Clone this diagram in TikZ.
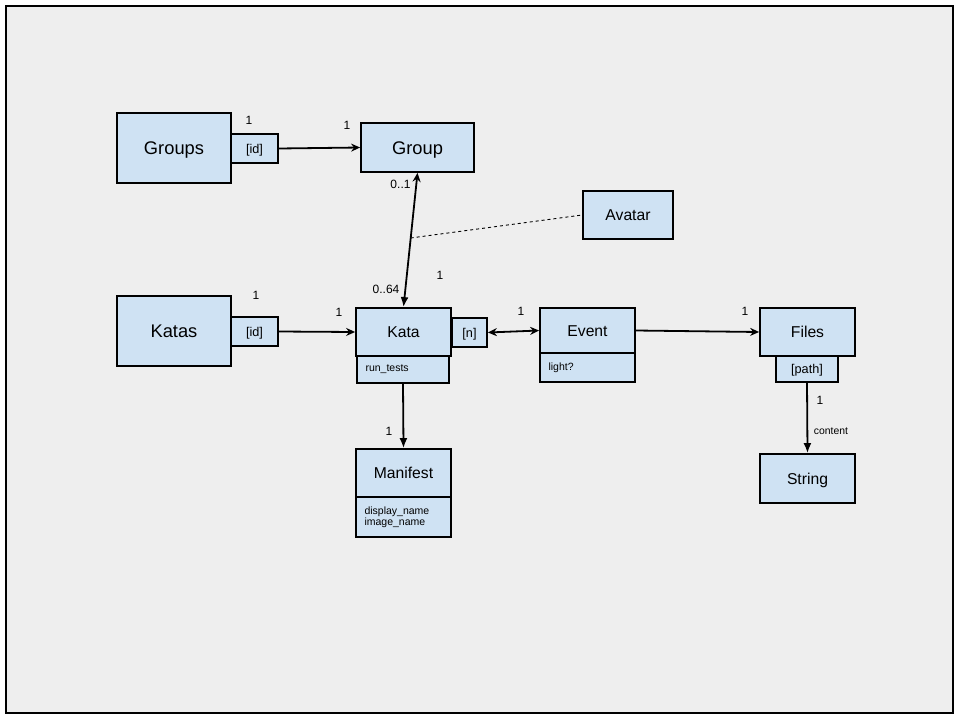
\documentclass[tikz,border=0pt]{standalone}
\usepackage{fontspec}
\setmainfont{Liberation Sans}
\usetikzlibrary{arrows.meta, calc}
\definecolor{boxblue}{HTML}{CFE2F3}
\definecolor{sheet}{HTML}{EEEEEE}
\tikzset{
  classbox/.style={rectangle, draw=black, line width=1.8pt, fill=boxblue, inner sep=0pt, text height=11.3pt, text depth=0pt, font=\fontsize{15.7}{19}\selectfont},
  bigbox/.style={classbox, minimum width=114pt, minimum height=70pt, text height=13.2pt, font=\fontsize{18.3}{22}\selectfont},
  keybox/.style={classbox, text height=9.1pt, font=\fontsize{12.7}{15}\selectfont},
  attrbox/.style={rectangle, draw=black, line width=1.8pt, fill=boxblue, inner sep=0pt, font=\fontsize{10.5}{12.5}\selectfont, align=left, text width=#1, inner xsep=8.5pt},
  mult/.style={inner sep=0pt, text height=8.6pt, text depth=0pt, font=\fontsize{12}{14}\selectfont},
  assoc/.style={line width=1.8pt}
}
\begin{document}
\begin{tikzpicture}[x=1pt, y=-1pt]
    % Hoja de fondo
    \useasboundingbox (0,0) rectangle (960,720);
    \node[draw=black, line width=1.5pt, fill=sheet, minimum width=947pt, minimum height=707pt, inner sep=0pt] (sheet) at (479.5,359.5) {};

    % Groups y Group
    \node[bigbox] (groups) at (174,148) {Groups};
    \node[keybox, minimum width=47pt, minimum height=29pt] (groupsid) at (254.5,148.5) {[id]};
    \node[classbox, minimum width=113pt, minimum height=49pt, text height=13.2pt, font=\fontsize{18.3}{22}\selectfont] (group) at (417.5,147.5) {Group};

    % Avatar
    \node[classbox, minimum width=90pt, minimum height=48pt] (avatar) at (628,215) {Avatar};

    % Katas y Kata
    \node[bigbox] (katas) at (174,331) {Katas};
    \node[keybox, minimum width=47pt, minimum height=29pt] (katasid) at (254.5,331.5) {[id]};
    \node[classbox, minimum width=95pt, minimum height=48pt] (kata) at (403.5,332) {Kata};
    \node[attrbox=75pt, minimum height=27pt] (katarun) at (403,369.5) {run\_tests};
    \node[keybox, minimum width=35pt, minimum height=29pt] (katan) at (469.5,332.5) {[n]};

    % Event
    \node[classbox, minimum width=95pt, minimum height=45pt] (event) at (587.5,330.5) {Event};
    \node[attrbox=78pt, minimum height=29pt] (eventlight) at (587.5,367.5) {light?};

    % Files y String
    \node[classbox, minimum width=95pt, minimum height=48pt] (files) at (807.5,332) {Files};
    \node[keybox, minimum width=62pt, minimum height=26pt] (filespath) at (807,369) {[path]};
    \node[classbox, minimum width=95pt, minimum height=49pt] (string) at (807.5,478.5) {String};

    % Manifest
    \node[classbox, minimum width=95pt, minimum height=48pt] (manifest) at (403.5,473) {Manifest};
    \node[attrbox=78pt, minimum height=40pt] (manifestattr) at (403.5,517) {display\_name\\[-1.5pt]image\_name};

    % Conectores
    \draw[assoc, -{Stealth[length=9pt, width=8pt, inset=3pt]}] (groupsid.east) -- (group.west);
    \draw[assoc, {Stealth[length=9pt, width=8pt, inset=3pt]}-{Latex[length=10pt, width=8pt]}] (group.south) -- (kata.north);
    \coordinate (avatarlink) at ($(group.south)!0.485!(kata.north)$);
    \draw[dashed, line width=0.9pt] (avatarlink) -- (avatar.west);
    \draw[assoc, -{Stealth[length=9pt, width=8pt, inset=3pt]}] (katasid.east) -- (kata.west);
    \draw[assoc, {Stealth[length=9pt, width=8pt, inset=3pt]}-{Stealth[length=9pt, width=8pt, inset=3pt]}] (katan.east) -- (event.west);
    \draw[assoc, -{Stealth[length=9pt, width=8pt, inset=3pt]}] (event.east) -- (files.west);
    \draw[assoc, -{Latex[length=10pt, width=8pt]}] (katarun.south) -- (manifest.north);
    \draw[assoc, -{Latex[length=10pt, width=8pt]}] (filespath.south) -- (string.north);

    % Multiplicidades
    \node[mult] (mgroups) at (249,120) {1};
    \node[mult] (mgroup) at (347,125) {1};
    \node[mult] (mgroupkata) at (400.5,184) {0..1};
    \node[mult] (mkatagroup) at (386,289) {0..64};
    \node[mult] (mavatar) at (440,275) {1};
    \node[mult] (mkatas) at (256,295) {1};
    \node[mult] (mkata) at (339,312) {1};
    \node[mult] (mevent) at (521,311) {1};
    \node[mult] (mfiles) at (745,311) {1};
    \node[mult] (mmanifest) at (389,431) {1};
    \node[mult] (mstring) at (820,400) {1};
    \node[mult, font=\fontsize{10.4}{12}\selectfont] (lcontent) at (831,430) {content};
\end{tikzpicture}
\end{document}
